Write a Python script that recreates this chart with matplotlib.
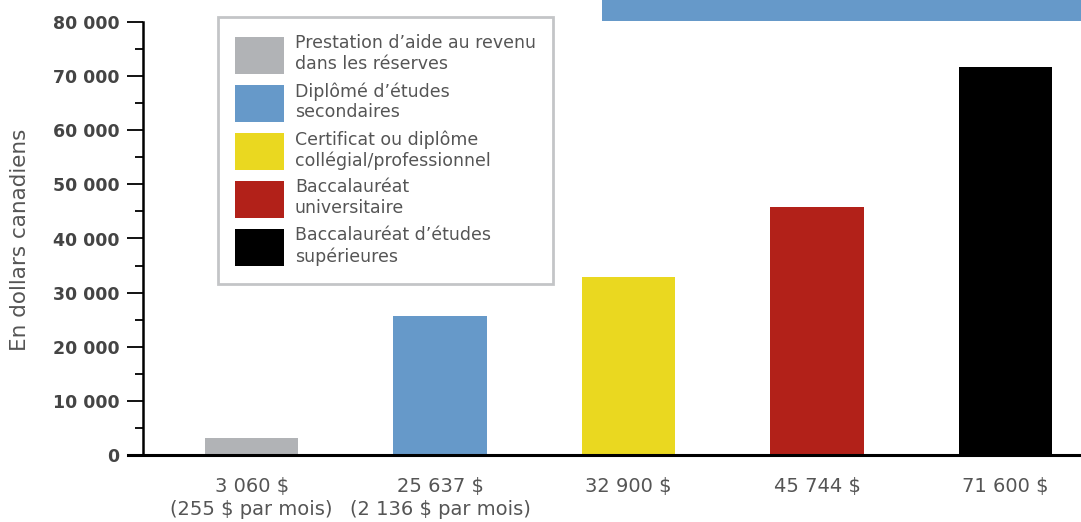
import matplotlib.pyplot as plt
from matplotlib.patches import Rectangle
from matplotlib.ticker import MultipleLocator, FuncFormatter

# données du graphique
categories = ['Prestation d\u2019aide au revenu\ndans les réserves',
              'Diplômé d\u2019études\nsecondaires',
              'Certificat ou diplôme\ncollégial/professionnel',
              'Baccalauréat\nuniversitaire',
              'Baccalauréat d\u2019études\nsupérieures']
revenus = [3060, 25637, 32900, 45744, 71600]
etiquettes = ['3 060 $\n(255 $ par mois)', '25 637 $\n(2 136 $ par mois)',
              '32 900 $', '45 744 $', '71 600 $']
couleurs = ['#b1b3b6', '#6699c9', '#ead820', '#b22119', '#000000']

plt.rcParams['font.family'] = ['DejaVu Sans']

fig = plt.figure(figsize=(10.81, 5.22), dpi=100)
ax = fig.add_axes([143 / 1081, 67 / 522, 938 / 1081, 433 / 522])

x = list(range(len(revenus)))
barres = ax.bar(x, revenus, width=0.495, color=couleurs, zorder=2)

ax.set_xlim(-0.576, 4.40)
ax.set_ylim(0, 80000)
ax.yaxis.set_major_locator(MultipleLocator(10000))
ax.yaxis.set_minor_locator(MultipleLocator(5000))
ax.yaxis.set_major_formatter(FuncFormatter(lambda v, p: f'{int(v):,}'.replace(',', ' ')))

for s in ['top', 'right']:
    ax.spines[s].set_visible(False)
ax.spines['left'].set_linewidth(1.8)
ax.spines['bottom'].set_linewidth(2.2)
ax.spines['bottom'].set_bounds(-0.656, 4.40)

ax.tick_params(axis='y', which='major', length=11.5, width=1.3, pad=5.5,
               labelsize=12.5, labelcolor='#444444')
ax.tick_params(axis='y', which='minor', length=6, width=1.3)
for t in ax.get_yticklabels():
    t.set_fontweight('bold')

ax.set_xticks(x)
ax.set_xticklabels(etiquettes, fontsize=14, color='#555555', linespacing=1.25)
ax.tick_params(axis='x', length=0, pad=16)

ax.set_ylabel('En dollars canadiens', fontsize=15.5, color='#555555')
ax.yaxis.set_label_coords(-0.121, 0.498)

leg = ax.legend(barres, categories, loc='upper left', bbox_to_anchor=(0.080, 1.0115),
                borderaxespad=0, fontsize=12.5, handlelength=2.82, handleheight=2.9,
                labelspacing=0.46, handletextpad=0.6, borderpad=1.0,
                fancybox=False, edgecolor='#b5b7b9', labelcolor='#555555')
leg.get_frame().set_linewidth(2)

# bandeau bleu en haut à droite
fig.add_artist(Rectangle((602 / 1081, 1 - 21 / 522), 479 / 1081, 21 / 522,
                         transform=fig.transFigure, color='#6699c9', lw=0))

fig.savefig('out.png', dpi=100)
